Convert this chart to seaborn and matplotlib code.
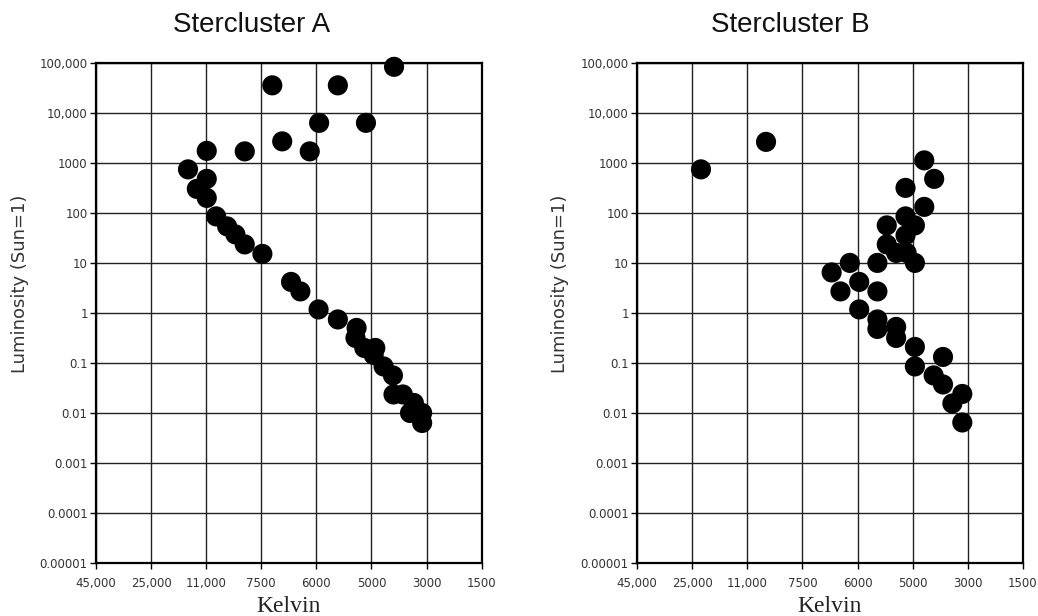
import numpy as np
import pandas as pd
import matplotlib
matplotlib.use("Agg")
import matplotlib.pyplot as plt
import seaborn as sns

# x axis is an ordinal temperature scale: evenly spaced ticks, values given as tick-index positions
kelvin_labels = ["45,000", "25,000", "11,000", "7500", "6000", "5000", "3000", "1500"]
lum_labels = ["0.00001", "0.0001", "0.001", "0.01", "0.1", "1", "10", "100", "1000", "10,000", "100,000"]

# Stercluster A (x = tick position, y = log10 luminosity)
a_pos = [5.41, 3.20, 4.39, 4.05, 4.90, 3.38, 3.88, 2.70, 2.01, 1.67, 2.01, 1.83, 2.01,
         2.18, 2.38, 2.53, 2.70, 3.02, 3.54, 3.71, 4.04, 4.39, 4.73, 4.71, 4.87, 5.07,
         5.04, 5.22, 5.39, 5.40, 5.57, 5.77, 5.70, 5.92, 5.92]
a_log = [4.92, 4.55, 4.55, 3.80, 3.80, 3.43, 3.23, 3.23, 3.24, 2.87, 2.68, 2.48, 2.30,
         1.93, 1.73, 1.57, 1.37, 1.18, 0.62, 0.43, 0.07, -0.13, -0.30, -0.50, -0.70, -0.70,
         -0.84, -1.07, -1.25, -1.63, -1.63, -1.80, -2.00, -2.00, -2.20]

# Stercluster B
b_pos = [1.16, 2.34, 5.21, 5.39, 4.87, 5.21, 4.87, 5.04, 4.53, 4.87, 4.53, 4.70, 4.89,
         5.04, 4.36, 3.86, 3.53, 4.03, 3.69, 4.36, 4.03, 4.36, 4.70, 4.36, 4.70, 5.04,
         5.04, 5.55, 5.38, 5.55, 5.72, 5.90, 5.90]
b_log = [2.87, 3.42, 3.05, 2.68, 2.50, 2.12, 1.93, 1.75, 1.75, 1.55, 1.37, 1.20, 1.20,
         1.00, 1.00, 1.00, 0.81, 0.62, 0.43, 0.43, 0.07, -0.13, -0.28, -0.32, -0.50, -0.68,
         -1.07, -0.88, -1.25, -1.43, -1.81, -1.62, -2.19]

df_a = pd.DataFrame({"pos": a_pos, "lum": 10.0 ** np.array(a_log)})
df_b = pd.DataFrame({"pos": b_pos, "lum": 10.0 ** np.array(b_log)})

sns.set_style("white")
plt.rcParams["font.family"] = ["DejaVu Sans"]

fig = plt.figure(figsize=(10.38, 6.16), dpi=100)
ax_a = fig.add_axes([0.0925, 0.086, 0.3715, 0.812])
ax_b = fig.add_axes([0.6137, 0.086, 0.3718, 0.812])

# (axes, data, title, title x, ylabel x) in figure fractions
panels = [(ax_a, df_a, "Stercluster A", 0.242, 0.0195),
          (ax_b, df_b, "Stercluster B", 0.761, 0.5395)]
for ax, df, title, tx, lx in panels:
    sns.scatterplot(data=df, x="pos", y="lum", ax=ax, color="black", s=210,
                    edgecolor="none", linewidth=0, zorder=3, clip_on=False)
    ax.set_yscale("log")
    ax.set_xlim(0, 7)
    ax.set_ylim(1e-5, 1e5)
    ax.set_xticks(range(len(kelvin_labels)))
    ax.set_xticklabels(kelvin_labels)
    ax.set_yticks([10.0 ** k for k in range(-5, 6)])
    ax.set_yticklabels(lum_labels)
    ax.minorticks_off()
    ax.grid(True, color="#222222", linewidth=1.0)
    ax.set_axisbelow(True)
    for sp in ax.spines.values():
        sp.set_color("black")
        sp.set_linewidth(1.6)
    ax.tick_params(axis="both", which="major", direction="out", length=4, width=1,
                   color="black", labelsize=8.5, labelcolor="#333333", left=True, bottom=True)
    ax.tick_params(axis="y", pad=2)
    ax.tick_params(axis="x", pad=6)
    ax.set_xlabel("")
    ax.set_ylabel("")
    # axis titles placed in figure pixels to match the reference layout
    bb = ax.get_position()
    fig.text((bb.x0 + bb.x1) / 2, 1 - 612 / 616, "Kelvin", ha="center", va="baseline",
             family="Liberation Serif", fontsize=17, color="#222222")
    fig.text(lx, 1 - 284 / 616, "Luminosity (Sun=1)", rotation=90, ha="center", va="center",
             fontsize=13, color="#333333")
    fig.text(tx, 0.959, title, ha="center", va="center", fontsize=20,
             family="Liberation Sans", color="#111111")

fig.savefig("out.png", dpi=100, facecolor="white")
